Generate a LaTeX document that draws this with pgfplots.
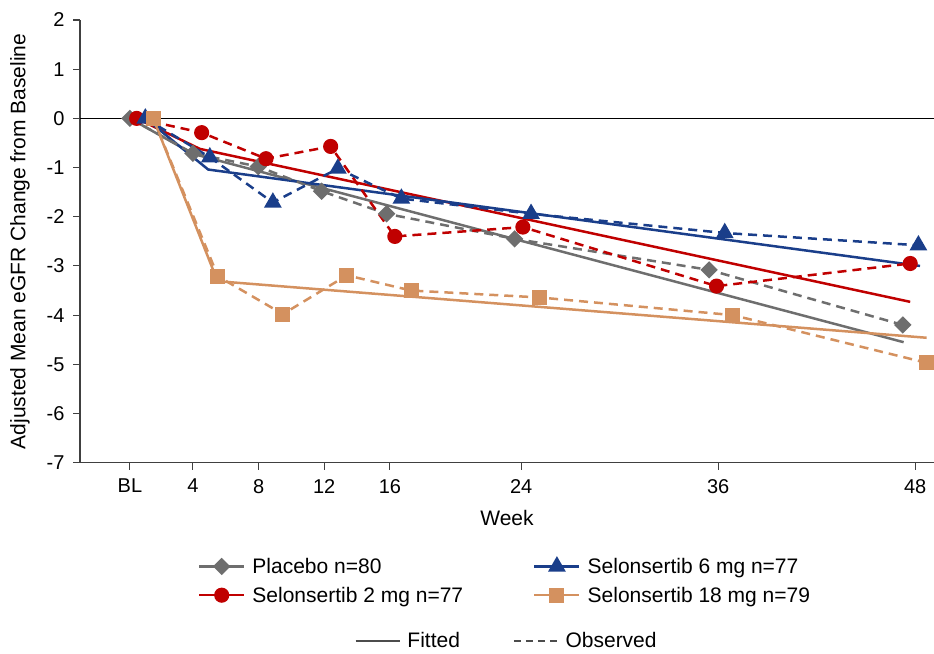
\documentclass[border=0pt]{standalone}
\usepackage{pgfplots}
\pgfplotsset{compat=1.18}
\usepackage{fontspec}
\setmainfont{Liberation Sans}
\definecolor{cgray}{RGB}{110,110,110}
\definecolor{cred}{RGB}{192,0,0}
\definecolor{cblue}{RGB}{26,62,138}
\definecolor{corange}{RGB}{212,145,95}
\begin{document}
\begin{tikzpicture}
\begin{axis}[
  name=main,
  at={(0,0)}, anchor=south west,
  scale only axis, width=854pt, height=442.7pt,
  xmin=-2.88, xmax=49.15, ymin=-7, ymax=2,
  axis x line*=bottom, axis y line*=left,
  axis line style={draw=black!75, line width=1.1pt},
  xtick={0.16,4,8,12,16,24,36,48},
  xticklabels={BL,4,8,12,16,24,36,48},
  ytick={-7,-6,-5,-4,-3,-2,-1,0,1,2},
  tick align=outside, major tick length=7pt,
  tick style={draw=black!75, line width=1.1pt},
  /pgf/number format/assume math mode=true,
  ticklabel style={font=\fontsize{20}{24}\selectfont},
  xticklabel style={yshift=-6pt},
  yticklabel style={xshift=-5pt},
  xlabel={Week}, ylabel={Adjusted Mean eGFR Change from Baseline},
  label style={font=\fontsize{21}{25}\selectfont},
  xlabel style={at={(axis description cs:0.5,-0.124)}, anchor=center},
  ylabel style={at={(axis description cs:-0.0703,0.5)}, anchor=center},
  clip=false,
  legend columns=2,
  legend cell align=left,
  legend image code/.code={\draw[mark repeat=2,mark phase=2,#1] plot coordinates {(0pt,0pt) (22.5pt,0pt) (45pt,0pt)};},
  legend style={at={(0.5,-0.197)}, anchor=north, draw=none, fill=none,
    font=\fontsize{21}{25}\selectfont,
    nodes={inner sep=6pt},
    /tikz/every odd column/.append style={column sep=1pt},
    /tikz/every even column/.append style={column sep=64pt},
    row sep=0pt},
]
\coordinate (bbsw) at (rel axis cs:-0.0937,-0.4321);
\coordinate (bbne) at (rel axis cs:1.0,1.0452);

\addlegendimage{cgray, line width=2.5pt, mark=square*, mark size=4.9pt, mark options={rotate=45, solid}}
\addlegendentry{Placebo n=80}
\addlegendimage{cblue, line width=2.5pt, mark=triangle*, mark size=7.8pt, mark options={solid}}
\addlegendentry{Selonsertib 6 mg n=77}
\addlegendimage{cred, line width=2.5pt, mark=*, mark size=6.3pt, mark options={solid}}
\addlegendentry{Selonsertib 2 mg n=77}
\addlegendimage{corange, line width=2.5pt, mark=square*, mark size=6.3pt, mark options={solid}}
\addlegendentry{Selonsertib 18 mg n=79}

% zero line
\addplot[black, line width=1.1pt, forget plot] coordinates {(-2.88,0) (49.15,0)};

% fitted
\addplot[cgray, line width=2.5pt, forget plot] coordinates {(0.16,0) (4.0,-0.72) (47.3,-4.55)};
\addplot[cred, line width=2.5pt, forget plot] coordinates {(0.57,0) (4.42,-0.62) (47.7,-3.73)};
\addplot[cblue, line width=2.5pt, forget plot] coordinates {(1.1,0) (4.93,-1.04) (48.3,-3.0)};
\addplot[corange, line width=2.5pt, forget plot] coordinates {(1.58,0) (5.5,-3.31) (48.7,-4.46)};

% observed
\addplot[cgray, line width=2.5pt, dash pattern=on 9pt off 6pt, mark=square*, mark size=4.9pt, mark options={rotate=45, solid}, forget plot]
  coordinates {(0.16,0) (4.0,-0.71) (7.98,-0.98) (11.84,-1.48) (15.8,-1.94) (23.6,-2.45) (35.45,-3.08) (47.25,-4.2)};
\addplot[cred, line width=2.5pt, dash pattern=on 9pt off 6pt, mark=*, mark size=6.3pt, mark options={solid}, forget plot]
  coordinates {(0.57,0) (4.53,-0.29) (8.45,-0.82) (12.39,-0.57) (16.3,-2.40) (24.1,-2.21) (35.9,-3.41) (47.7,-2.95)};
\addplot[cblue, line width=2.5pt, dash pattern=on 9pt off 6pt, mark=triangle*, mark size=7.8pt, mark options={solid}, forget plot]
  coordinates {(1.1,0) (5.03,-0.79) (8.87,-1.71) (12.83,-1.02) (16.7,-1.63) (24.6,-1.94) (36.4,-2.33) (48.2,-2.58)};
\addplot[corange, line width=2.5pt, dash pattern=on 9pt off 6pt, mark=square*, mark size=6.3pt, mark options={solid}, forget plot]
  coordinates {(1.58,0) (5.52,-3.21) (9.48,-3.98) (13.38,-3.19) (17.3,-3.50) (25.1,-3.64) (36.9,-4.0) (48.7,-4.97)};
\end{axis}

\begin{axis}[
  at={(main.south west)}, anchor=south west,
  scale only axis, width=854pt, height=442.7pt,
  hide axis, xmin=0, xmax=1, ymin=0, ymax=1,
  legend columns=2,
  legend cell align=left,
  legend image code/.code={\draw[#1] (0pt,0pt) -- (44pt,0pt);},
  legend style={at={(0.502,-0.4028)}, anchor=center, draw=none, fill=none,
    font=\fontsize{21}{25}\selectfont,
    nodes={inner sep=6pt},
    /tikz/every odd column/.append style={column sep=1pt},
    /tikz/every even column/.append style={column sep=47pt}},
]
\addlegendimage{black!70, line width=1.6pt}
\addlegendentry{Fitted}
\addlegendimage{black!70, line width=1.6pt, dash pattern=on 7pt off 5pt}
\addlegendentry{Observed}
\end{axis}
\pgfresetboundingbox
\path[use as bounding box] (bbsw) rectangle (bbne);
\end{tikzpicture}
\end{document}
